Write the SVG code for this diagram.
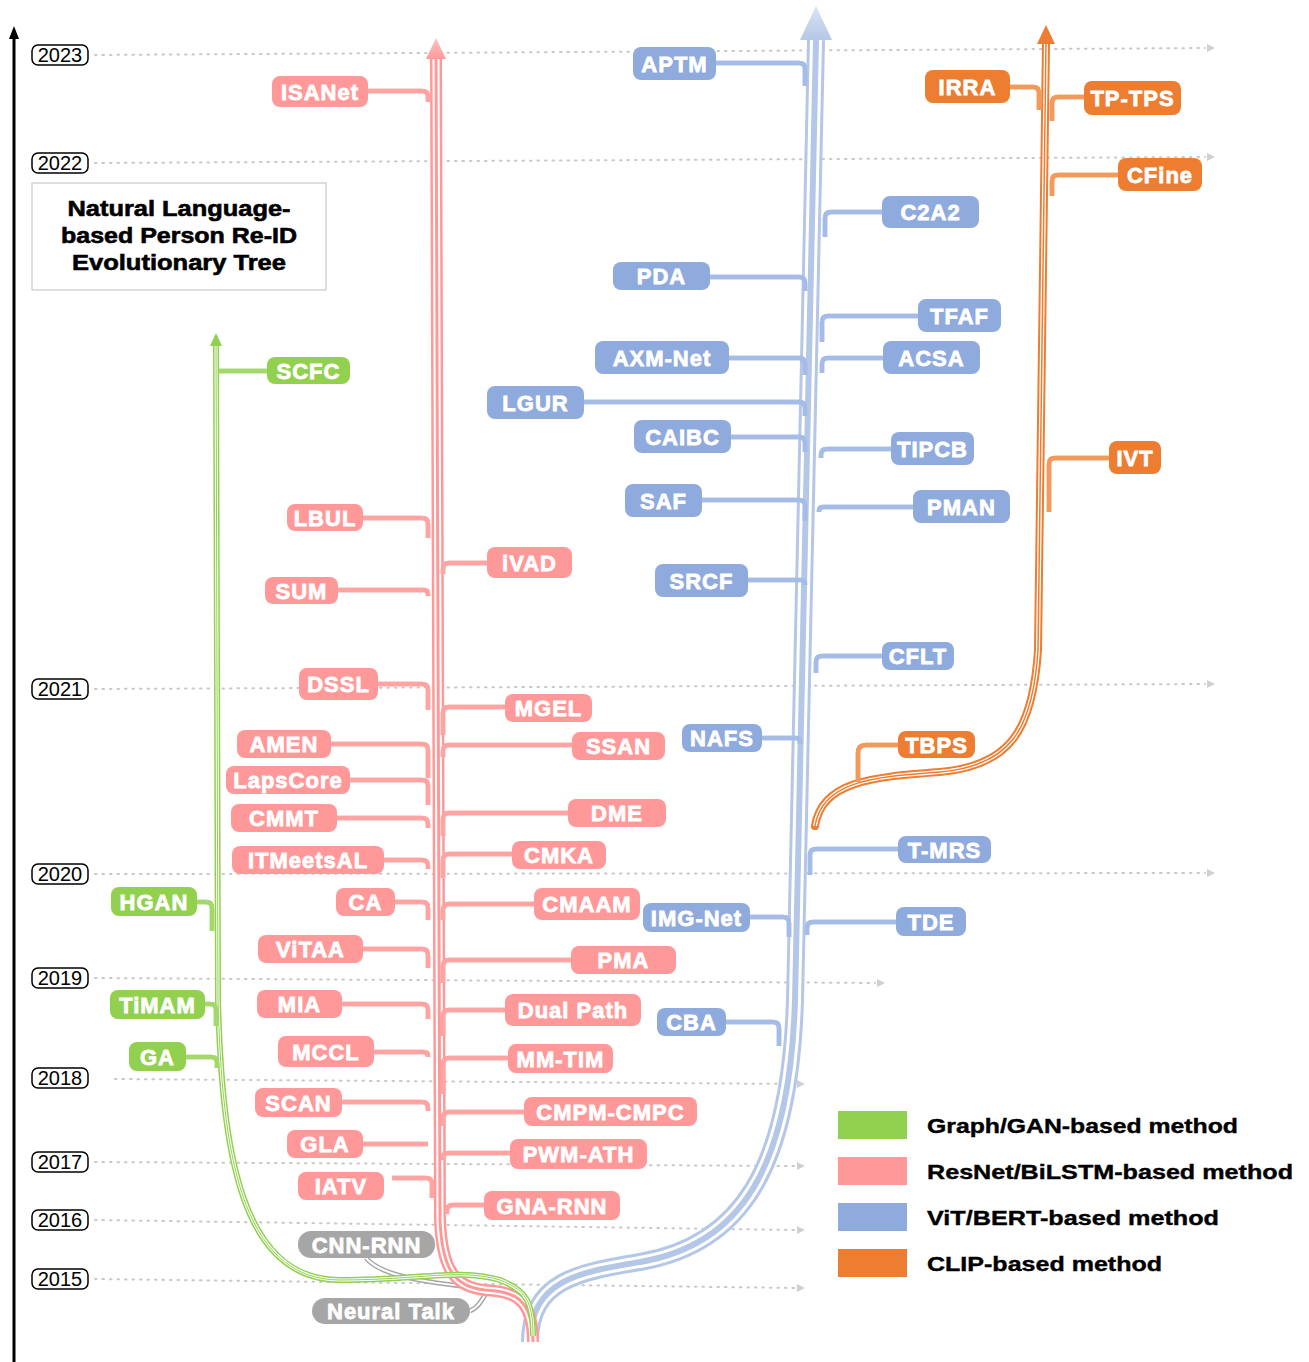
<svg xmlns="http://www.w3.org/2000/svg" xmlns:xlink="http://www.w3.org/1999/xlink" width="1309" height="1362" viewBox="0 0 1309 1362">
<style>
.dot{fill:none;stroke:#c8c8c8;stroke-width:2;stroke-dasharray:1.5 6;stroke-linecap:round}
.yr rect{fill:#fff;stroke:#000;stroke-width:1.5}
.yr text{font-family:"Liberation Sans",Arial,sans-serif;font-size:20px;fill:#000;text-anchor:middle}
.node text{fill:#fff;stroke:#fff;stroke-width:0.8;font-family:"Liberation Sans",Arial,sans-serif;font-weight:bold;font-size:22px;text-anchor:middle;letter-spacing:1px}
.red rect{fill:#ff9999}
.blue rect{fill:#8faadc}
.orange rect{fill:#ed7d31}
.green rect{fill:#92d050}
.gray rect{fill:#a6a6a6}
.c{fill:none}
.wt{stroke:#fff}
.bt1{stroke:#b4c7e7;stroke-width:18}.bt2{stroke-width:12}.bt3{stroke:#b4c7e7;stroke-width:6}
.rt1{stroke:#ff9999;stroke-width:12}.rt2{stroke-width:7}.rt3{stroke:#ff9999;stroke-width:3}
.gt1{stroke:#92d050;stroke-width:6}.gt2{stroke-width:3}.gt3{stroke:#92d050;stroke-width:1}
.yt1{stroke:#a6a6a6;stroke-width:5}.yt2{stroke-width:2}
.ot1{stroke:#ed7d31;stroke-width:8;stroke-linecap:round}.ot2{stroke-width:4}.ot3{stroke:#ed7d31;stroke-width:1.5}
.br path{fill:none;stroke-width:4.5}
.brw path{fill:none;stroke:#fff;stroke-width:1.8}
.rb path{stroke:#ffa3a3}.bb path{stroke:#a4bce6}.ob path{stroke:#f29a5c}.gb path{stroke:#a3d86a}
.leg text{font-family:"Liberation Sans",Arial,sans-serif;font-weight:bold;font-size:21px;fill:#000;stroke:#000;stroke-width:0.4}
.title text{font-family:"Liberation Sans",Arial,sans-serif;font-weight:bold;font-size:22px;fill:#000;stroke:#000;stroke-width:0.6;text-anchor:middle}
</style>
<defs>
<linearGradient id="gRed" x1="0" y1="0" x2="0" y2="1"><stop offset="0" stop-color="#ffc4c4"/><stop offset="1" stop-color="#ff9999"/></linearGradient>
<linearGradient id="gBlue" x1="0" y1="0" x2="0" y2="1"><stop offset="0" stop-color="#dbe4f4"/><stop offset="1" stop-color="#b4c7e7"/></linearGradient>
<path id="pBlue" d="M 530 1342 C 530 1280, 580 1272, 640 1262 C 740 1245, 790 1170, 795 1000 L 816 40"/>
<path id="pRed" d="M 533 1342 C 533 1296, 512 1292, 485 1290 C 455 1287, 442 1270, 440 1220 L 436 56"/>
<path id="pGreen" d="M 533 1336 C 533 1300, 525 1290, 500 1280 C 460 1268, 420 1280, 340 1280 C 240 1280, 222 1150, 218 1000 L 216 343"/>
<path id="pGray1" d="M 366 1258 C 380 1275, 420 1282, 480 1288 C 520 1292, 530 1300, 530 1330"/>
<path id="pGray2" d="M 470 1311 C 478 1308, 482 1300, 488 1290"/>
<path id="pOrange" d="M 815 826 C 822 782, 870 777, 940 772 C 1010 766, 1033 730, 1038 650 L 1046 42"/>
</defs>
<rect width="1309" height="1362" fill="#fff"/>

<g id="axis">
<line x1="14" y1="1362" x2="14" y2="36" stroke="#000" stroke-width="3"/>
<polygon points="14,26 9,39 19,39" fill="#000"/>
</g>

<g id="gridlines">
<path class="dot" d="M95 55 L1205 48"/><polygon points="1207,44 1215,48 1207,52" fill="#d0d0d0"/>
<path class="dot" d="M95 163 L1205 157"/><polygon points="1207,153 1215,157 1207,161" fill="#d0d0d0"/>
<path class="dot" d="M95 689 L1205 684"/><polygon points="1207,680 1215,684 1207,688" fill="#d0d0d0"/>
<path class="dot" d="M95 874 L1205 873"/><polygon points="1207,869 1215,873 1207,877" fill="#d0d0d0"/>
<path class="dot" d="M95 978 L875 983"/><polygon points="877,979 885,983 877,987" fill="#d0d0d0"/>
<path class="dot" d="M115 1079 L795 1084"/><polygon points="797,1080 805,1084 797,1088" fill="#d0d0d0"/>
<path class="dot" d="M95 1162 L795 1166"/><polygon points="797,1162 805,1166 797,1170" fill="#d0d0d0"/>
<path class="dot" d="M95 1220 L795 1230"/><polygon points="797,1226 805,1230 797,1234" fill="#d0d0d0"/>
<path class="dot" d="M95 1279 L795 1288"/><polygon points="797,1284 805,1288 797,1292" fill="#d0d0d0"/>
</g>

<g id="years" class="yr">
<rect x="32" y="45" width="56" height="20" rx="6"/><text x="60" y="62">2023</text>
<rect x="32" y="153" width="56" height="20" rx="6"/><text x="60" y="170">2022</text>
<rect x="32" y="679" width="56" height="20" rx="6"/><text x="60" y="696">2021</text>
<rect x="32" y="864" width="56" height="20" rx="6"/><text x="60" y="881">2020</text>
<rect x="32" y="968" width="56" height="20" rx="6"/><text x="60" y="985">2019</text>
<rect x="32" y="1068" width="56" height="20" rx="6"/><text x="60" y="1085">2018</text>
<rect x="32" y="1152" width="56" height="20" rx="6"/><text x="60" y="1169">2017</text>
<rect x="32" y="1210" width="56" height="20" rx="6"/><text x="60" y="1227">2016</text>
<rect x="32" y="1269" width="56" height="20" rx="6"/><text x="60" y="1286">2015</text>
</g>

<g id="title" class="title">
<rect x="32" y="183" width="294" height="107" fill="#fff" stroke="#c8c8c8" stroke-width="1.2"/>
<text x="179" y="216" textLength="223" lengthAdjust="spacingAndGlyphs">Natural Language-</text>
<text x="179" y="243" textLength="236" lengthAdjust="spacingAndGlyphs">based Person Re-ID</text>
<text x="179" y="270" textLength="214" lengthAdjust="spacingAndGlyphs">Evolutionary Tree</text>
</g>

<g id="connectors">
<g id="trunks">
<use href="#pBlue" class="c bt1"/><use href="#pBlue" class="c wt bt2"/><use href="#pBlue" class="c bt3"/>
<polygon points="816,6 800,40 832,40" fill="url(#gBlue)"/>
<use href="#pGray1" class="c yt1"/><use href="#pGray1" class="c wt yt2"/>
<use href="#pGray2" class="c yt1"/><use href="#pGray2" class="c wt yt2"/>
<use href="#pRed" class="c rt1"/><use href="#pRed" class="c wt rt2"/><use href="#pRed" class="c rt3"/>
<polygon points="436,38 426,59 446,59" fill="url(#gRed)"/>
<use href="#pGreen" class="c gt1"/><use href="#pGreen" class="c wt gt2"/><use href="#pGreen" class="c gt3"/>
<polygon points="216,333 210,346 222,346" fill="#92d050"/>
<use href="#pOrange" class="c ot1"/><use href="#pOrange" class="c wt ot2"/><use href="#pOrange" class="c ot3"/>
<polygon points="1046,25 1037,44 1055,44" fill="#ed7d31"/>
</g>
<g id="branches-red" class="br rb">
<path id="b-red-L" d="M368 91 H422 Q428 91 428 97 V102 M363 518 H422 Q428 518 428 524 V538 M338 590 H424 Q428 590 428 594 V596 M378 684 H422 Q428 684 428 690 V710 M331 744 H422 Q428 744 428 750 V778 M350 780 H422 Q428 780 428 786 V805 M337 818 H422 Q428 818 428 824 V828 M384 860 H422 Q428 860 428 866 V869 M395 902 H422 Q428 902 428 908 V920 M363 949 H422 Q428 949 428 955 V968 M342 1004 H422 Q428 1004 428 1010 V1019 M374 1052 H424 Q428 1052 428 1056 V1057 M342 1102 H422 Q428 1102 428 1108 V1111 M363 1144 H428 M392 1178 H426 Q432 1178 432 1184 V1198"/>
<path id="b-red-R" d="M487 563 H449 Q443 563 443 569 V574 M505 707 H449 Q443 707 443 713 V735 M572 745 H449 Q443 745 443 751 V757 M568 813 H449 Q443 813 443 819 V836 M512 854 H449 Q443 854 443 860 V878 M534 904 H449 Q443 904 443 910 V920 M571 960 H449 Q443 960 443 966 V983 M505 1010 H449 Q443 1010 443 1016 V1036 M508 1058 H449 Q443 1058 443 1064 V1094 M524 1112 H449 Q443 1112 443 1118 V1126 M510 1153 H449 Q443 1153 443 1157 V1160 M484 1205 H453 Q447 1205 447 1211 V1214"/>
</g>
<g class="brw"><use href="#b-red-L"/><use href="#b-red-R"/></g>
<g id="branches-blue" class="br bb">
<path id="b-blue-L" d="M716 63 H799 Q805 63 805 69 V86 M710 277 H799 Q805 277 805 283 V291 M729 358 H799 Q805 358 805 364 V375 M584 402 H799 Q805 402 805 408 V416 M731 437 H799 Q805 437 805 443 V452 M702 500 H799 Q805 500 805 506 V521 M748 580 H801 Q805 580 805 584 V585 M762 738 H796 Q800 738 800 742 V744 M750 917 H783 Q789 917 789 923 V937 M726 1022 H773 Q779 1022 779 1028 V1046"/>
<path id="b-blue-R" d="M882 212 H831 Q825 212 825 218 V237 M918 316 H828 Q822 316 822 322 V342 M883 358 H828 Q822 358 822 364 V373 M891 449 H827 Q821 449 821 455 V458 M913 507 H823 Q819 507 819 511 V512 M882 656 H822 Q816 656 816 662 V673 M898 849 H816 Q810 849 810 855 V875 M896 922 H813 Q807 922 807 928 V935"/>
</g>
<g class="brw"><use href="#b-blue-L"/><use href="#b-blue-R"/></g>
<g id="branches-orange" class="br ob">
<path id="b-orange" d="M1010 87 H1033 Q1039 87 1039 93 V110 M1084 97 H1058 Q1052 97 1052 103 V121 M1118 175 H1058 Q1052 175 1052 181 V196 M1109 458 H1055 Q1049 458 1049 464 V512 M898 745 H866 Q858 745 858 753 V782"/>
</g>
<g class="brw"><use href="#b-orange"/></g>
<g id="branches-green" class="br gb">
<path id="b-green" d="M267 371 H219 M197 902 H206 Q212 902 212 908 V931 M205 1004 H210 Q216 1004 216 1010 V1026 M186 1057 H211 Q217 1057 217 1063 V1068"/>
</g>
<g class="brw"><use href="#b-green"/></g>
</g>

<g id="nodes">
<g id="n-ISANet" class="node red"><rect x="272" y="76" width="96" height="31" rx="8"/><text x="320" y="99.5">ISANet</text></g>
<g id="n-LBUL" class="node red"><rect x="287" y="504" width="76" height="27" rx="8"/><text x="325" y="525.5">LBUL</text></g>
<g id="n-SUM" class="node red"><rect x="265" y="577" width="73" height="27" rx="8"/><text x="301.5" y="598.5">SUM</text></g>
<g id="n-DSSL" class="node red"><rect x="299" y="668" width="79" height="32" rx="8"/><text x="338.5" y="692">DSSL</text></g>
<g id="n-AMEN" class="node red"><rect x="237" y="730" width="94" height="28" rx="8"/><text x="284" y="752">AMEN</text></g>
<g id="n-LapsCore" class="node red"><rect x="226" y="766" width="124" height="28" rx="8"/><text x="288" y="788">LapsCore</text></g>
<g id="n-CMMT" class="node red"><rect x="231" y="804" width="106" height="28" rx="8"/><text x="284" y="826">CMMT</text></g>
<g id="n-ITMeetsAL" class="node red"><rect x="232" y="846" width="152" height="28" rx="8"/><text x="308" y="868">ITMeetsAL</text></g>
<g id="n-CA" class="node red"><rect x="336" y="888" width="59" height="28" rx="8"/><text x="365.5" y="910">CA</text></g>
<g id="n-ViTAA" class="node red"><rect x="258" y="935" width="105" height="28" rx="8"/><text x="310.5" y="957">ViTAA</text></g>
<g id="n-MIA" class="node red"><rect x="257" y="990" width="85" height="28" rx="8"/><text x="299.5" y="1012">MIA</text></g>
<g id="n-MCCL" class="node red"><rect x="278" y="1036" width="96" height="31" rx="8"/><text x="326" y="1059.5">MCCL</text></g>
<g id="n-SCAN" class="node red"><rect x="255" y="1088" width="87" height="29" rx="8"/><text x="298.5" y="1110.5">SCAN</text></g>
<g id="n-GLA" class="node red"><rect x="287" y="1130" width="76" height="28" rx="8"/><text x="325" y="1152">GLA</text></g>
<g id="n-IATV" class="node red"><rect x="298" y="1172" width="86" height="28" rx="8"/><text x="341" y="1194">IATV</text></g>
<g id="n-iVAD" class="node red"><rect x="487" y="547" width="85" height="31" rx="8"/><text x="529.5" y="570.5">iVAD</text></g>
<g id="n-MGEL" class="node red"><rect x="505" y="694" width="87" height="28" rx="8"/><text x="548.5" y="716">MGEL</text></g>
<g id="n-SSAN" class="node red"><rect x="572" y="732" width="93" height="28" rx="8"/><text x="618.5" y="754">SSAN</text></g>
<g id="n-DME" class="node red"><rect x="568" y="799" width="98" height="28" rx="8"/><text x="617" y="821">DME</text></g>
<g id="n-CMKA" class="node red"><rect x="512" y="841" width="94" height="28" rx="8"/><text x="559" y="863">CMKA</text></g>
<g id="n-CMAAM" class="node red"><rect x="534" y="888" width="106" height="32" rx="8"/><text x="587" y="912">CMAAM</text></g>
<g id="n-PMA" class="node red"><rect x="571" y="946" width="105" height="28" rx="8"/><text x="623.5" y="968">PMA</text></g>
<g id="n-DualPath" class="node red"><rect x="505" y="994" width="136" height="32" rx="8"/><text x="573" y="1018">Dual Path</text></g>
<g id="n-MM-TIM" class="node red"><rect x="508" y="1044" width="105" height="29" rx="8"/><text x="560.5" y="1066.5">MM-TIM</text></g>
<g id="n-CMPM-CMPC" class="node red"><rect x="524" y="1097" width="173" height="29" rx="8"/><text x="610.5" y="1119.5">CMPM-CMPC</text></g>
<g id="n-PWM-ATH" class="node red"><rect x="510" y="1139" width="137" height="30" rx="8"/><text x="578.5" y="1162">PWM-ATH</text></g>
<g id="n-GNA-RNN" class="node red"><rect x="484" y="1191" width="136" height="29" rx="8"/><text x="552" y="1213.5">GNA-RNN</text></g>

<g id="n-APTM" class="node blue"><rect x="633" y="47" width="83" height="33" rx="8"/><text x="674.5" y="71.5">APTM</text></g>
<g id="n-C2A2" class="node blue"><rect x="882" y="196" width="97" height="32" rx="8"/><text x="930.5" y="220">C2A2</text></g>
<g id="n-PDA" class="node blue"><rect x="613" y="262" width="97" height="28" rx="8"/><text x="661.5" y="284">PDA</text></g>
<g id="n-TFAF" class="node blue"><rect x="918" y="299" width="83" height="33" rx="8"/><text x="959.5" y="323.5">TFAF</text></g>
<g id="n-AXM-Net" class="node blue"><rect x="595" y="341" width="134" height="33" rx="8"/><text x="662" y="365.5">AXM-Net</text></g>
<g id="n-ACSA" class="node blue"><rect x="883" y="341" width="97" height="33" rx="8"/><text x="931.5" y="365.5">ACSA</text></g>
<g id="n-LGUR" class="node blue"><rect x="487" y="386" width="97" height="33" rx="8"/><text x="535.5" y="410.5">LGUR</text></g>
<g id="n-CAIBC" class="node blue"><rect x="634" y="420" width="97" height="33" rx="8"/><text x="682.5" y="444.5">CAIBC</text></g>
<g id="n-TIPCB" class="node blue"><rect x="891" y="432" width="83" height="33" rx="8"/><text x="932.5" y="456.5">TIPCB</text></g>
<g id="n-SAF" class="node blue"><rect x="625" y="484" width="77" height="33" rx="8"/><text x="663.5" y="508.5">SAF</text></g>
<g id="n-PMAN" class="node blue"><rect x="913" y="490" width="97" height="33" rx="8"/><text x="961.5" y="514.5">PMAN</text></g>
<g id="n-SRCF" class="node blue"><rect x="655" y="564" width="93" height="33" rx="8"/><text x="701.5" y="588.5">SRCF</text></g>
<g id="n-CFLT" class="node blue"><rect x="882" y="642" width="72" height="28" rx="8"/><text x="918" y="664">CFLT</text></g>
<g id="n-NAFS" class="node blue"><rect x="682" y="724" width="80" height="28" rx="8"/><text x="722" y="746">NAFS</text></g>
<g id="n-T-MRS" class="node blue"><rect x="898" y="836" width="93" height="27" rx="8"/><text x="944.5" y="857.5">T-MRS</text></g>
<g id="n-IMG-Net" class="node blue"><rect x="643" y="903" width="107" height="29" rx="8"/><text x="696.5" y="925.5">IMG-Net</text></g>
<g id="n-TDE" class="node blue"><rect x="896" y="907" width="70" height="29" rx="8"/><text x="931" y="929.5">TDE</text></g>
<g id="n-CBA" class="node blue"><rect x="657" y="1008" width="69" height="28" rx="8"/><text x="691.5" y="1030">CBA</text></g>

<g id="n-IRRA" class="node orange"><rect x="925" y="70" width="85" height="33" rx="8"/><text x="967.5" y="94.5">IRRA</text></g>
<g id="n-TP-TPS" class="node orange"><rect x="1084" y="81" width="97" height="34" rx="8"/><text x="1132.5" y="106">TP-TPS</text></g>
<g id="n-CFine" class="node orange"><rect x="1118" y="158" width="84" height="33" rx="8"/><text x="1160" y="182.5">CFine</text></g>
<g id="n-IVT" class="node orange"><rect x="1109" y="441" width="52" height="33" rx="8"/><text x="1135" y="465.5">IVT</text></g>
<g id="n-TBPS" class="node orange"><rect x="898" y="731" width="77" height="27" rx="8"/><text x="936.5" y="752.5">TBPS</text></g>

<g id="n-SCFC" class="node green"><rect x="267" y="357" width="83" height="27" rx="8"/><text x="308.5" y="378.5">SCFC</text></g>
<g id="n-HGAN" class="node green"><rect x="111" y="887" width="86" height="29" rx="8"/><text x="154" y="909.5">HGAN</text></g>
<g id="n-TiMAM" class="node green"><rect x="110" y="990" width="95" height="29" rx="8"/><text x="157.5" y="1012.5">TiMAM</text></g>
<g id="n-GA" class="node green"><rect x="129" y="1042" width="57" height="29" rx="8"/><text x="157.5" y="1064.5">GA</text></g>

<g id="n-CNN-RNN" class="node gray"><rect x="298" y="1231" width="137" height="27" rx="13"/><text x="366.5" y="1252.5">CNN-RNN</text></g>
<g id="n-NeuralTalk" class="node gray"><rect x="312" y="1298" width="158" height="26" rx="13"/><text x="391" y="1319">Neural Talk</text></g>
</g>

<g id="legend" class="leg">
<rect x="838" y="1111" width="69" height="28" fill="#92d050"/>
<rect x="838" y="1157" width="69" height="28" fill="#ff9999"/>
<rect x="838" y="1203" width="69" height="28" fill="#8faadc"/>
<rect x="838" y="1249" width="69" height="28" fill="#ed7d31"/>
<text x="927" y="1133" textLength="311" lengthAdjust="spacingAndGlyphs">Graph/GAN-based method</text>
<text x="927" y="1179" textLength="366" lengthAdjust="spacingAndGlyphs">ResNet/BiLSTM-based method</text>
<text x="927" y="1225" textLength="292" lengthAdjust="spacingAndGlyphs">ViT/BERT-based method</text>
<text x="927" y="1271" textLength="235" lengthAdjust="spacingAndGlyphs">CLIP-based method</text>
</g>
</svg>
